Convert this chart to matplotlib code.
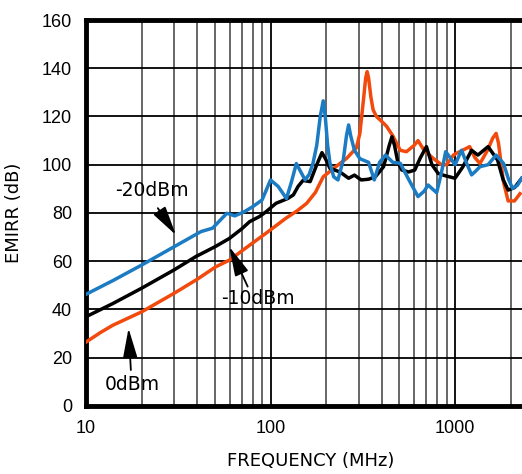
import matplotlib.pyplot as plt
from matplotlib.ticker import FixedLocator, NullFormatter

# -20dBm (blue)
freq_m20 = [10, 14, 20, 30, 42, 48.5, 58, 64, 72, 80, 90, 100, 110, 122, 130, 138, 146,
            154, 162, 170, 178, 186, 193, 198, 204, 210, 220, 232, 248, 258, 265, 272, 285,
            305, 340, 365, 390, 420, 460, 505, 560, 630, 680, 715, 795, 840, 890, 940, 1000,
            1085, 1150, 1230, 1300, 1365, 1510, 1670, 1830, 1950, 2050, 2180, 2300]
emirr_m20 = [46.3, 52, 58.4, 66, 72.3, 73.7, 79.9, 78.8, 80.5, 82.6, 85.4, 93.7, 91, 86, 93,
             100.5, 97, 93.7, 96, 100.7, 108, 120, 126.5, 120, 108, 100.7, 95, 93.7, 102,
             112, 116.5, 112, 106, 102.5, 101, 93.7, 101, 104, 101, 100.6, 94, 86.8, 89, 91.6,
             88.4, 96, 105.4, 103, 100, 106, 101, 95.8, 97.5, 99.2, 100, 104, 100.6, 94, 90.2,
             91.5, 94.4]

# -10dBm (black)
freq_m10 = [10, 14, 20, 30, 39.5, 50, 60, 70, 77, 87, 94.5, 107, 124, 133, 141, 150, 164,
            178, 190, 200, 210, 238, 265, 285, 310, 340, 370, 410, 440, 455, 470, 490, 515,
            560, 605, 650, 700, 750, 810, 880, 1000, 1100, 1230, 1330, 1510, 1700, 1820, 1940,
            2100, 2300]
emirr_m10 = [37, 42.5, 48.8, 56.4, 62, 66, 69.5, 73.5, 76.4, 78.5, 80.5, 84, 86, 87.5, 91,
             93.5, 93, 100, 105, 102, 98.5, 97, 94.4, 95.7, 93.7, 94, 95, 99.2, 108, 111.6,
             108, 101, 97.8, 97, 97.8, 103, 107.5, 100, 96.4, 95.5, 94.4, 99, 106, 104, 107.5,
             102, 94, 89.5, 90.5, 94.4]

# 0dBm (orange)
freq_0 = [10, 12, 14, 17, 20, 30, 40, 50.5, 60, 75, 94.5, 121, 140, 157, 175, 193, 220, 259,
          292, 305, 318, 328, 334, 340, 350, 360, 375, 400, 425, 460, 505, 545, 600, 630, 680,
          760, 845, 900, 980, 1015, 1100, 1200, 1280, 1365, 1500, 1600, 1670, 1720, 1830,
          1940, 2100, 2250]
emirr_0 = [26.5, 30.5, 33.5, 36.5, 39, 46.7, 52.5, 57.7, 60.5, 66, 71.6, 77.8, 81, 84, 88.5,
           95, 98.5, 102.7, 107, 113, 126, 136, 138.6, 136, 128, 122.7, 120, 118, 116, 112,
           106, 105.4, 108, 110, 106, 102.7, 100, 100, 104, 104.7, 106, 107.5, 103, 100.5,
           106, 111, 113, 109, 93, 85, 85, 88]

yticks = [0, 20, 40, 60, 80, 100, 120, 140, 160]
xticks = [10, 100, 1000]
xminor = [20, 30, 40, 50, 60, 70, 80, 90, 200, 300, 400, 500, 600, 700, 800, 900, 2000]

fig = plt.figure(figsize=(5.22, 4.74), dpi=100)
ax = fig.add_axes([0.1648, 0.1435, 0.8352, 0.8143])

for v in xminor:
    ax.axvline(v, color='#5a5a5a', lw=1.3, zorder=1)
for v in xticks:
    ax.axvline(v, color='black', lw=1.3, zorder=1)
for v in yticks:
    ax.axhline(v, color='black', lw=1.3, zorder=1)

ax.plot(freq_0, emirr_0, color='#f24a0c', lw=2.5, zorder=3, solid_joinstyle='round')
ax.plot(freq_m10, emirr_m10, color='black', lw=2.5, zorder=3, solid_joinstyle='round')
ax.plot(freq_m20, emirr_m20, color='#1b7bc3', lw=2.5, zorder=4, solid_joinstyle='round')

ax.set_xscale('log')
ax.set_xlim(10, 2307)
ax.set_ylim(0, 160)
ax.xaxis.set_major_locator(FixedLocator(xticks))
ax.xaxis.set_minor_locator(FixedLocator(xminor))
ax.xaxis.set_minor_formatter(NullFormatter())
ax.set_xticklabels(['10', '100', '1000'])
ax.set_yticks(yticks)
ax.tick_params(axis='both', which='both', length=0, labelsize=13, pad=10)
for lab in ax.get_yticklabels() + ax.get_xticklabels():
    lab.set_family('Liberation Sans')

for s in ['left', 'bottom', 'top']:
    ax.spines[s].set_linewidth(3.5)
ax.spines['right'].set_visible(False)

ax.set_xlabel('FREQUENCY (MHz)', fontsize=13, family='DejaVu Sans')
ax.xaxis.set_label_coords(0.516, -0.118)
ax.set_ylabel('EMIRR (dB)', fontsize=13, family='DejaVu Sans')
ax.yaxis.set_label_coords(-0.145, 0.5)

arrow = dict(arrowstyle='-|>,head_length=0.9,head_width=0.22', color='black', lw=1.3,
             mutation_scale=20, shrinkA=0, shrinkB=0)
ax.annotate('', xy=(30.7, 70.9), xytext=(24.5, 82), arrowprops=arrow, zorder=5)
ax.text(22.8, 89.5, '-20dBm', fontsize=13.5, ha='center', va='center')
ax.annotate('', xy=(59.8, 66), xytext=(75.2, 49.5), arrowprops=arrow, zorder=5)
ax.text(85.5, 44.4, '-10dBm', fontsize=13.5, ha='center', va='center')
ax.annotate('', xy=(17.0, 32.2), xytext=(17.5, 14.9), arrowprops=arrow, zorder=5)
ax.text(17.8, 8.7, '0dBm', fontsize=13.5, ha='center', va='center')

fig.savefig('out.png', dpi=100)
